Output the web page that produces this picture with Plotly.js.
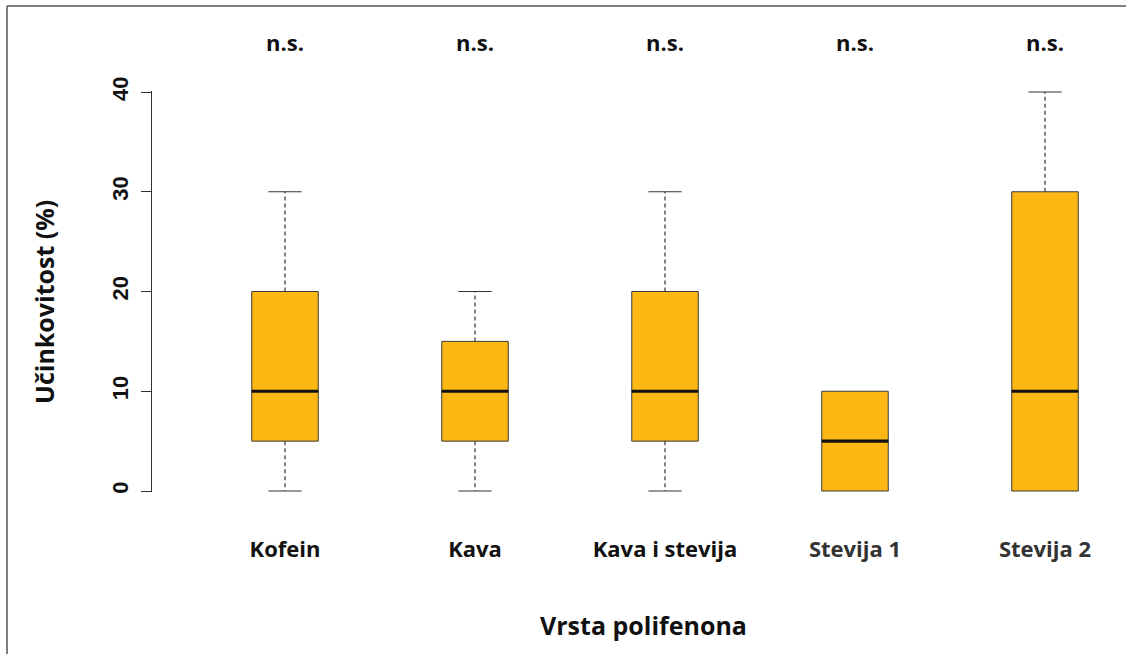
<!DOCTYPE html>
<html>
<head>
<meta charset="utf-8">
<script src="https://cdn.plot.ly/plotly-3.0.1.min.js"></script>
<style>html,body{margin:0;padding:0;background:#fff;}#chart{width:1126px;height:654px;}</style>
</head>
<body>
<div id="chart"></div>
<script>
// Data
var categories = ["Kofein", "Kava", "Kava i stevija", "Stevija 1", "Stevija 2"];
var minValues    = [0, 0, 0, 0, 0];
var q1Values     = [5, 5, 5, 0, 0];
var medianValues = [10, 10, 10, 5, 10];
var q3Values     = [20, 15, 20, 10, 30];
var maxValues    = [30, 20, 30, 10, 40];
var significance = ["n.s.", "n.s.", "n.s.", "n.s.", "n.s."];
var yTicks = [0, 10, 20, 30, 40];

var BOX_W = 0.35;
var CAP_W = BOX_W / 2;
var pos = categories.map(function(c, i){ return i + 1; });
var FONT = "'Open Sans', Lato, sans-serif";

var boxTrace = {
  type: "box",
  x: pos,
  q1: q1Values,
  median: medianValues,
  q3: q3Values,
  lowerfence: q1Values,
  upperfence: q3Values,
  width: BOX_W,
  fillcolor: "#FDB813",
  line: {color: "#3a3a3a", width: 1},
  whiskerwidth: 0,
  boxpoints: false,
  hoverinfo: "skip",
  showlegend: false
};

var wx = [], wy = [], cx = [], cy = [], mx = [], my = [];
pos.forEach(function(p, i){
  if (maxValues[i] > q3Values[i]) {
    wx.push(p, p, null); wy.push(q3Values[i], maxValues[i], null);
    cx.push(p - CAP_W/2, p + CAP_W/2, null); cy.push(maxValues[i], maxValues[i], null);
  }
  if (minValues[i] < q1Values[i]) {
    wx.push(p, p, null); wy.push(q1Values[i], minValues[i], null);
    cx.push(p - CAP_W/2, p + CAP_W/2, null); cy.push(minValues[i], minValues[i], null);
  }
  mx.push(p - BOX_W/2, p + BOX_W/2, null); my.push(medianValues[i], medianValues[i], null);
});

var whiskers = {type: "scatter", mode: "lines", x: wx, y: wy, line: {color: "#333", width: 1.2, dash: "4px,3px"}, hoverinfo: "skip", showlegend: false, cliponaxis: false};
var caps = {type: "scatter", mode: "lines", x: cx, y: cy, line: {color: "#333", width: 1.2}, hoverinfo: "skip", showlegend: false, cliponaxis: false};
var medians = {type: "scatter", mode: "lines", x: mx, y: my, line: {color: "#111", width: 3.2}, hoverinfo: "skip", showlegend: false, cliponaxis: false};

var L = 152, R = 16, T = 91, B = 162, W = 1126 - L - R, H = 654 - T - B;
function px2x(px){ return (px - L) / W; }
function py2y(py){ return (654 - B - py) / H; }

var annotations = pos.map(function(p, i){
  return {x: p, xref: "x", y: py2y(42), yref: "paper", text: significance[i], showarrow: false,
          xanchor: "center", yanchor: "middle", font: {family: FONT, size: 22, color: "#111", weight: "bold"}};
});
annotations.push({x: px2x(44), xref: "paper", y: py2y(302), yref: "paper", text: "Učinkovitost (%)",
  textangle: -90, showarrow: false, xanchor: "center", yanchor: "middle",
  font: {family: FONT, size: 25, color: "#111", weight: "bold"}});
annotations.push({x: px2x(643), xref: "paper", y: py2y(625), yref: "paper", text: "Vrsta polifenona",
  showarrow: false, xanchor: "center", yanchor: "middle",
  font: {family: FONT, size: 25, color: "#111", weight: "bold"}});

var tickText = categories.map(function(c, i){
  return i >= 3 ? '<span style="color:#333">' + c + '</span>' : c;
});

var layout = {
  width: 1126, height: 654,
  margin: {l: L, r: R, t: T, b: B, pad: 0},
  paper_bgcolor: "#fff", plot_bgcolor: "#fff",
  showlegend: false,
  xaxis: {
    range: [0.3, 0.3 + W / 190],
    tickmode: "array", tickvals: pos, ticktext: tickText,
    ticks: "", showline: false, showgrid: false, zeroline: false,
    ticklabelstandoff: 42,
    tickfont: {family: FONT, size: 22, color: "#111", weight: "bold"},
    fixedrange: true
  },
  yaxis: {
    range: [-0.1, 40.1],
    tickmode: "array", tickvals: yTicks, ticktext: yTicks.map(String),
    ticks: "outside", ticklen: 10, tickwidth: 1, tickcolor: "#333",
    showline: true, linecolor: "#333", linewidth: 1,
    showgrid: false, zeroline: false,
    tickangle: -90,
    ticklabelstandoff: 4,
    tickfont: {family: "'Liberation Sans', Arial, sans-serif", size: 22, color: "#111", weight: "bold"},
    fixedrange: true
  },
  annotations: annotations,
  shapes: [
    {type: "line", xref: "paper", yref: "paper", x0: px2x(7), x1: px2x(7), y0: py2y(6), y1: py2y(654), line: {color: "#555", width: 1.5}},
    {type: "line", xref: "paper", yref: "paper", x0: px2x(7), x1: px2x(1126), y0: py2y(6), y1: py2y(6), line: {color: "#555", width: 1.5}}
  ]
};

Plotly.newPlot("chart", [boxTrace, whiskers, caps, medians], layout, {displayModeBar: false, staticPlot: true});
</script>
</body>
</html>
